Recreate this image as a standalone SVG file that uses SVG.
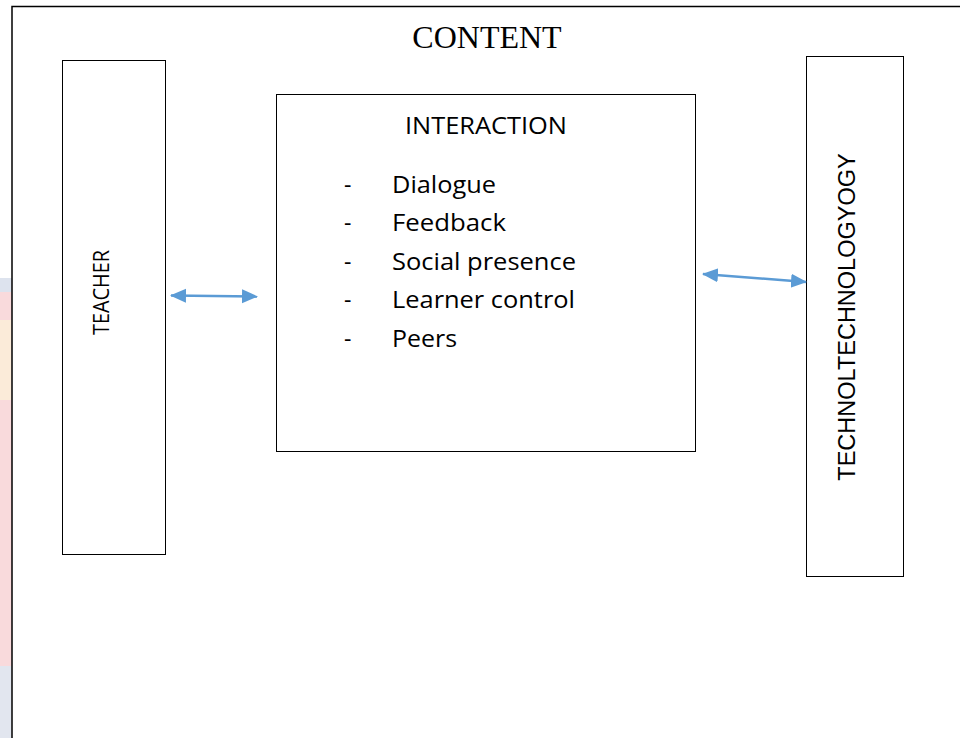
<svg xmlns="http://www.w3.org/2000/svg" width="960" height="738" viewBox="0 0 960 738">
<style>
.box{fill:#fff;stroke:#000;stroke-width:1}
.frame{fill:none;stroke:#000;stroke-width:1.5}
.body{font-family:"Open Sans","Liberation Sans",sans-serif;font-size:23px;fill:#000}
.arial{font-family:"Liberation Sans",Arial,sans-serif;font-size:23.5px;fill:#000}
.title{font-family:"Liberation Serif","Times New Roman",serif;font-size:32px;fill:#000}
.conn{stroke:#5B9BD5;stroke-width:2.5;fill:none}
</style>
<defs>
<marker id="ah" viewBox="0 0 16 16" refX="15" refY="8" markerWidth="16" markerHeight="16" orient="auto-start-reverse" markerUnits="userSpaceOnUse">
<path d="M0,1 L16,8 L0,15 z" fill="#5B9BD5"/>
</marker>
</defs>
<rect width="960" height="738" fill="#fff"/>
<g id="watermark">
<rect x="0" y="278" width="12" height="14" fill="#dde3ee"/>
<rect x="0" y="292" width="12" height="374" fill="#f9dadc"/>
<rect x="0" y="320" width="12" height="80" fill="#fbefd8" opacity="0.8"/>
<rect x="0" y="666" width="12" height="72" fill="#e2e6ef"/>
</g>
<rect class="frame" x="12" y="6.5" width="960" height="750"/>
<text class="title" x="487" y="48" text-anchor="middle">CONTENT</text>
<g id="teacher">
<rect class="box" x="62.5" y="60.5" width="103" height="494"/>
<text class="body" style="font-size:22.5px" transform="translate(109,335) rotate(-90)" textLength="85" lengthAdjust="spacingAndGlyphs">TEACHER</text>
</g>
<g id="interaction">
<rect class="box" x="276.5" y="94.5" width="419" height="357"/>
<text class="body" x="405" y="134" textLength="162" lengthAdjust="spacingAndGlyphs">INTERACTION</text>
<g class="body">
<text x="344" y="193">-</text><text x="392" y="193" textLength="104" lengthAdjust="spacingAndGlyphs">Dialogue</text>
<text x="344" y="231">-</text><text x="392" y="231" textLength="114" lengthAdjust="spacingAndGlyphs">Feedback</text>
<text x="344" y="270">-</text><text x="392" y="270" textLength="184" lengthAdjust="spacingAndGlyphs">Social presence</text>
<text x="344" y="308">-</text><text x="392" y="308" textLength="183" lengthAdjust="spacingAndGlyphs">Learner control</text>
<text x="344" y="347">-</text><text x="392" y="347" textLength="65" lengthAdjust="spacingAndGlyphs">Peers</text>
</g>
</g>
<g id="technology">
<rect class="box" x="806.5" y="56.5" width="97" height="520"/>
<text class="arial" transform="translate(855,317) rotate(-90)" text-anchor="middle">TECHNOLTECHNOLOGYOGY</text>
</g>
<g id="connectors">
<line class="conn" x1="171" y1="295.5" x2="257" y2="296.5" marker-start="url(#ah)" marker-end="url(#ah)"/>
<line class="conn" x1="703" y1="274" x2="806" y2="282" marker-start="url(#ah)" marker-end="url(#ah)"/>
</g>
</svg>
